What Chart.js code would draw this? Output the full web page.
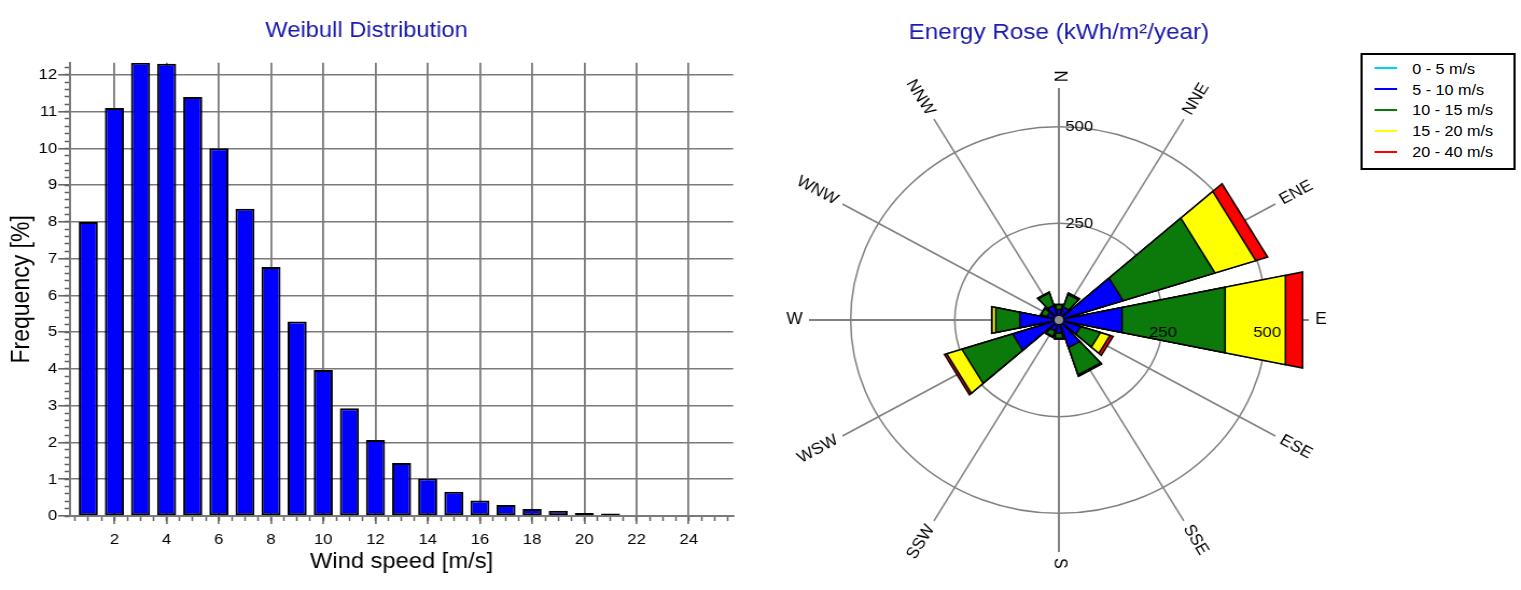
<!DOCTYPE html>
<html>
<head>
<meta charset="utf-8">
<script src="https://cdn.jsdelivr.net/npm/chart.js@4.4.1/dist/chart.umd.min.js"></script>
<style>
  html, body { margin: 0; padding: 0; background: #fff; overflow: hidden; }
  /* the reference is a little wider than tall, so the whole page is stretched */
  #page { position: absolute; left: 0; top: 0; width: 1412px; height: 590px;
          transform: scaleX(1.0772); transform-origin: 0 0;
          font-family: "Liberation Sans", Arial, sans-serif; }
  #weibull { position: absolute; left: 0; top: 0; }
  #rose    { position: absolute; left: 703px; top: 0; }
  #roseLegend { position: absolute; left: 1263px; top: 53px; width: 144px; height: 117px;
                box-sizing: border-box; border: 2px solid #000; padding-top: 3px; background: #fff; }
  .lg-row  { display: flex; align-items: center; height: 20.8px; font-size: 15px; color: #000; }
  .lg-line { width: 21px; height: 2px; margin-left: 11px; margin-right: 14px; }
</style>
</head>
<body>
<div id="page">
  <canvas id="weibull" width="720" height="590"></canvas>
  <canvas id="rose" width="560" height="600"></canvas>
  <div id="roseLegend"></div>
</div>
<script>
const FONT = '"Liberation Sans", Arial, sans-serif'
const TITLE_BLUE = '#1a1aac'

// Weibull distribution
const SPEEDS = [1, 2, 3, 4, 5, 6, 7, 8, 9, 10, 11, 12, 13, 14, 15, 16, 17, 18, 19, 20, 21]
const FREQ   = [8.0, 11.1, 12.33, 12.3, 11.4, 10.0, 8.36, 6.77, 5.29, 3.97, 2.93,
                2.07, 1.44, 1.02, 0.66, 0.42, 0.30, 0.19, 0.14, 0.08, 0.07]

// Energy rose
const DIRS   = ['N','NNE','ENE','E','ESE','SSE','S','SSW','WSW','W','WNW','NNW']
const BANDS  = ['0 - 5 m/s', '5 - 10 m/s', '10 - 15 m/s', '15 - 20 m/s', '20 - 40 m/s']
const COLORS = ['#00d4e8', '#0000ff', '#0b7a0b', '#ffff00', '#ff0000']
const E_0_5   = [3, 3, 4, 4, 3, 3, 3, 3, 4, 3, 3, 3]
const E_5_10  = [25, 32, 158, 151, 52, 72, 32, 27, 113, 93, 27, 37]
const E_10_15 = [12, 35, 232, 253, 50, 74, 13, 15, 128, 59, 15, 34]
const E_15_20 = [1, 3, 103, 148, 24, 3, 2, 2, 38, 9, 1, 2]
const E_20_40 = [0, 1, 30, 42, 8, 1, 0, 0, 6, 1, 0, 0]
const ROSE_MAX  = 600
const ROSE_STEP = 250

const SLOTS = 10   // 3 degree slots per 30 degree sector
const HALF  = 4    // wedge half width in slots (12 degrees)

// ---------- Weibull bar chart ----------
new Chart(document.getElementById('weibull'), {
  type: 'bar',
  data: {
    datasets: [{
      data: SPEEDS.map((s, i) => ({ x: s, y: FREQ[i] })),
      backgroundColor: '#0000ff',
      borderColor: '#000',
      borderWidth: 2,
      borderSkipped: false,
      categoryPercentage: 1,
      barPercentage: 0.73,
      xAxisID: 'x',
      yAxisID: 'y'
    }]
  },
  options: {
    responsive: false,
    animation: false,
    layout: { padding: { left: 0, right: 39.4, top: 0, bottom: 0 } },
    plugins: {
      legend: { display: false },
      tooltip: { enabled: false },
      title: { display: true, text: 'Weibull Distribution', color: TITLE_BLUE,
               font: { size: 22, family: FONT, weight: 'normal' }, padding: { top: 18, bottom: 18.3 } }
    },
    scales: {
      x: {
        type: 'linear', position: 'bottom', weight: 1, z: 1, offset: false,
        min: 0.3, max: 25.7,
        ticks: { stepSize: 2, includeBounds: false, color: '#000', font: { size: 15.5, family: FONT },
                 padding: 6, maxRotation: 0, autoSkip: false },
        grid: { offset: false, color: '#7a7a7a', lineWidth: 1.8, tickLength: 8, tickColor: '#606060', tickWidth: 1.5 },
        border: { color: '#7a7a7a', width: 2 },
        title: { display: true, text: 'Wind speed [m/s]', color: '#000',
                 font: { size: 22, family: FONT }, padding: { top: 0, bottom: 14.8 } },
        afterFit: s => { s.height = 74 }
      },
      xm: {
        type: 'linear', position: 'bottom', weight: 0, z: 1, offset: false,
        min: 0.3, max: 25.7,
        ticks: { stepSize: 0.5, includeBounds: false, display: false },
        grid: { offset: false, drawOnChartArea: false, tickLength: 5, tickColor: '#606060', tickWidth: 1.5 },
        border: { display: false },
        afterFit: s => { s.height = 0 }
      },
      y: {
        position: 'left', weight: 1, z: 1,
        min: 0, max: 12.33,
        ticks: { stepSize: 1, includeBounds: false, color: '#000', font: { size: 15.5, family: FONT }, padding: 1 },
        grid: { color: '#7a7a7a', lineWidth: 1.6, tickLength: 11, tickColor: '#606060', tickWidth: 1.5 },
        border: { color: '#7a7a7a', width: 2 },
        title: { display: true, text: 'Frequency [%]', color: '#000',
                 font: { size: 23, family: FONT }, padding: { top: 6.7, bottom: 0 } },
        afterFit: s => { s.width = 65 }
      },
      ym: {
        position: 'left', weight: 0, z: 1,
        min: 0, max: 12.33,
        ticks: { stepSize: 0.2, includeBounds: false, display: false },
        grid: { drawOnChartArea: false, tickLength: 5, tickColor: '#606060', tickWidth: 1.5 },
        border: { display: false },
        afterFit: s => { s.width = 0 }
      }
    }
  }
})

// ---------- Energy rose ----------
// stack the bands: each dataset is drawn out to the running total
const bands = [E_0_5, E_5_10, E_10_15, E_15_20, E_20_40]
let run = DIRS.map(() => 0)
const cums = bands.map(b => (run = run.map((v, i) => v + b[i])))

// a wedge is two corner points at the same radius, then back to the centre
function roseData(cum) {
  const n = DIRS.length * SLOTS
  const out = new Array(n).fill(null)
  cum.forEach((v, k) => {
    out[(k * SLOTS - HALF + n) % n] = v
    out[k * SLOTS + HALF] = v
    out[k * SLOTS + HALF + 1] = 0
  })
  return out
}

const roseLabels = Array.from({ length: DIRS.length * SLOTS }, (_, i) => i % SLOTS ? '' : DIRS[i / SLOTS])

const roseText = {
  id: 'roseText',
  afterDraw(chart) {
    const r = chart.scales.r
    const ctx = chart.ctx
    const cx = r.xCenter, cy = r.yCenter
    ctx.save()

    ctx.fillStyle = '#8c8c8c'
    ctx.beginPath()
    ctx.arc(cx, cy, 4, 0, Math.PI * 2)
    ctx.fill()

    ctx.font = '15.5px ' + FONT
    ctx.fillStyle = '#000'
    ctx.textBaseline = 'middle'
    r.ticks.filter(t => t.value > 0).forEach(t => {
      const d = r.getDistanceFromCenterForValue(t.value)
      ctx.textAlign = 'left'
      ctx.fillText(t.value, cx + 6, cy - d)
      ctx.textAlign = 'center'
      ctx.fillText(t.value, cx + d, cy + 13)
    })

    ctx.font = '16px ' + FONT
    const R = r.drawingArea + 6
    DIRS.forEach((name, k) => {
      const phi = r.getIndexAngle(k * SLOTS) - Math.PI / 2
      let rot = phi, align = 'left'
      if (!(phi > -Math.PI / 2 + 1e-6 && phi <= Math.PI / 2 + 1e-6)) { rot = phi - Math.PI; align = 'right' }
      ctx.save()
      ctx.translate(cx + Math.cos(phi) * R, cy + Math.sin(phi) * R)
      ctx.rotate(rot)
      ctx.textAlign = align
      ctx.fillText(name, 0, 0)
      ctx.restore()
    })
    ctx.restore()
  }
}

new Chart(document.getElementById('rose'), {
  type: 'radar',
  data: {
    labels: roseLabels,
    datasets: cums.map((c, i) => ({
      label: BANDS[i],
      data: roseData(c),
      backgroundColor: COLORS[i],
      borderColor: '#000',
      borderWidth: 1.5,
      fill: true,
      spanGaps: true,
      pointRadius: 0,
      pointHoverRadius: 0,
      pointHitRadius: 0
    }))
  },
  options: {
    responsive: false,
    animation: false,
    layout: { padding: { left: 47, right: 47, top: 0, bottom: 46.5 } },
    elements: { line: { tension: 0 } },
    plugins: {
      legend: { display: false },
      tooltip: { enabled: false },
      title: { display: true, text: 'Energy Rose (kWh/m²/year)', color: TITLE_BLUE,
               font: { size: 22.5, family: FONT, weight: 'normal' }, padding: { top: 18.8, bottom: 42.3 } }
    },
    scales: {
      r: {
        min: 0, max: ROSE_MAX, startAngle: 0, z: 1,
        ticks: { display: false, stepSize: ROSE_STEP, includeBounds: false },
        pointLabels: { display: false },
        grid: { circular: true, color: '#808080', lineWidth: 1.5 },
        angleLines: {
          display: true, color: '#808080',
          lineWidth: ctx => ctx.index % SLOTS ? 0 : ((ctx.index / SLOTS) % 3 === 0 ? 2 : 1.5)
        }
      }
    }
  },
  plugins: [roseText]
})

document.getElementById('roseLegend').innerHTML = BANDS.map((b, i) => `
  <div class="lg-row"><span class="lg-line" style="background:${COLORS[i]}"></span>${b}</div>
`).join('')
</script>
</body>
</html>
